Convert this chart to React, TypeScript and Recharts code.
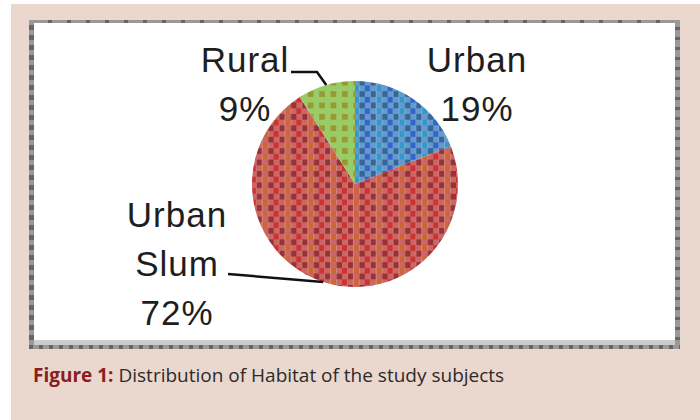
import React from "react";
import { PieChart, Pie, Cell } from "recharts";

const categories = ["Urban", "Urban Slum", "Rural"];
const values = [19, 72, 9];
const patternIds = ["patUrban", "patSlum", "patRural"];

const data = categories.map((name, i) => ({ name, value: values[i] }));

// label placement relative to pie centre (Excel-style manual label positions)
const labelLayout: { dx: number; dy: number; leader: number[][] | null }[] = [
  { dx: 122, dy: -112, leader: null },
  { dx: -178, dy: 43, leader: [[-127, 90]] },
  { dx: -110, dy: -112, leader: [[-64, -112], [-38, -112]] },
];

const RAD = Math.PI / 180;
const S = 5.7;

const renderLabel = (props: any) => {
  const { cx, cy, midAngle, outerRadius, index } = props;
  const name = props.name ?? props.payload?.name;
  const value = props.value ?? props.payload?.value;
  const lay = labelLayout[index];
  const px = cx + outerRadius * Math.cos(-midAngle * RAD);
  const py = cy + outerRadius * Math.sin(-midAngle * RAD);
  const lines = [...String(name).split(" "), `${value}%`];
  return (
    <g key={`lbl-${index}`}>
      {lay.leader && (
        <polyline
          points={[...lay.leader.map(([x, y]) => `${cx + x},${cy + y}`), `${px},${py}`].join(" ")}
          fill="none"
          stroke="#111"
          strokeWidth={2.5}
        />
      )}
      <text
        textAnchor="middle"
        fontFamily="'Liberation Sans', Arial, sans-serif"
        fontSize={35}
        letterSpacing={1}
        fill="#1e1e1e"
      >
        {lines.map((l, k) => (
          <tspan key={k} x={cx + lay.dx} y={cy + lay.dy + k * 49}>
            {l}
          </tspan>
        ))}
      </text>
    </g>
  );
};

const Patterns = () => (
  <svg width={0} height={0} style={{ position: "absolute" }}>
    <defs>
      <pattern id="patUrban" patternUnits="userSpaceOnUse" width={4 * S} height={2 * S}>
        <rect x={0} y={0} width={S} height={S} fill="#6699cc" />
        <rect x={S} y={0} width={S} height={S} fill="#336699" />
        <rect x={2 * S} y={0} width={S} height={S} fill="#6699cc" />
        <rect x={3 * S} y={0} width={S} height={S} fill="#336699" />
        <rect x={0} y={S} width={S} height={S} fill="#3366cc" />
        <rect x={S} y={S} width={S} height={S} fill="#6699cc" />
        <rect x={2 * S} y={S} width={S} height={S} fill="#3399cc" />
        <rect x={3 * S} y={S} width={S} height={S} fill="#6699cc" />
      </pattern>
      <pattern id="patSlum" patternUnits="userSpaceOnUse" width={4 * S} height={2 * S}>
        <rect x={0} y={0} width={S} height={S} fill="#cc6666" />
        <rect x={S} y={0} width={S} height={S} fill="#993333" />
        <rect x={2 * S} y={0} width={S} height={S} fill="#cc6666" />
        <rect x={3 * S} y={0} width={S} height={S} fill="#993333" />
        <rect x={0} y={S} width={S} height={S} fill="#cc3333" />
        <rect x={S} y={S} width={S} height={S} fill="#cc6666" />
        <rect x={2 * S} y={S} width={S} height={S} fill="#cc6633" />
        <rect x={3 * S} y={S} width={S} height={S} fill="#cc6666" />
      </pattern>
      <pattern id="patRural" patternUnits="userSpaceOnUse" width={2 * S} height={2 * S}>
        <rect x={0} y={0} width={2 * S} height={2 * S} fill="#99cc66" />
        <rect x={0} y={0} width={S} height={S} fill="#999933" />
      </pattern>
    </defs>
  </svg>
);

const abs = (l: number, t: number, w: number, h: number, extra: React.CSSProperties = {}): React.CSSProperties => ({
  position: "absolute",
  left: l,
  top: t,
  width: w,
  height: h,
  ...extra,
});

export default function App() {
  return (
    <div style={{ position: "absolute", left: 0, top: 0, width: 700, height: 420, background: "#fff", overflow: "hidden" }}>
      <Patterns />
      <div style={abs(11, 4, 689, 416, { background: "#ead8cf" })} />
      {/* framed white box */}
      <div style={abs(29, 20, 651, 329, { background: "#fff" })} />
      <div style={abs(29, 20, 651, 3, { background: "repeating-linear-gradient(90deg,#666 0 4px,#999 4px 19px)" })} />
      <div style={abs(29, 20, 5, 329, { background: "repeating-linear-gradient(180deg,#999 0 5px,#666 5px 10px)" })} />
      <div style={abs(675, 20, 5, 329, { background: "repeating-linear-gradient(180deg,#999 0 7px,#666 7px 10px)" })} />
      <div style={abs(34, 340, 641, 5, { background: "#cccccc" })} />
      <div style={abs(29, 345, 651, 4, { background: "repeating-linear-gradient(90deg,#666 0 4px,#999 4px 10px)" })} />
      <div style={abs(0, 0, 700, 420)}>
        <PieChart width={700} height={420} margin={{ top: 0, right: 0, bottom: 0, left: 0 }}>
          <Pie
            data={data}
            dataKey="value"
            nameKey="name"
            cx={355}
            cy={184}
            outerRadius={103}
            startAngle={90}
            endAngle={-270}
            stroke="none"
            label={renderLabel}
            labelLine={false}
            isAnimationActive={false}
          >
            {data.map((d, i) => (
              <Cell key={d.name} fill={`url(#${patternIds[i]})`} />
            ))}
          </Pie>
        </PieChart>
      </div>
      <div
        style={abs(33, 363, 660, 24, {
          fontFamily: "'Open Sans', sans-serif",
          fontSize: 19,
          lineHeight: "24px",
          color: "#2d2a2a",
          whiteSpace: "nowrap",
        })}
      >
        <span style={{ fontWeight: 700, color: "#8b1c22" }}>Figure 1:</span> Distribution of Habitat of the study subjects
      </div>
    </div>
  );
}
